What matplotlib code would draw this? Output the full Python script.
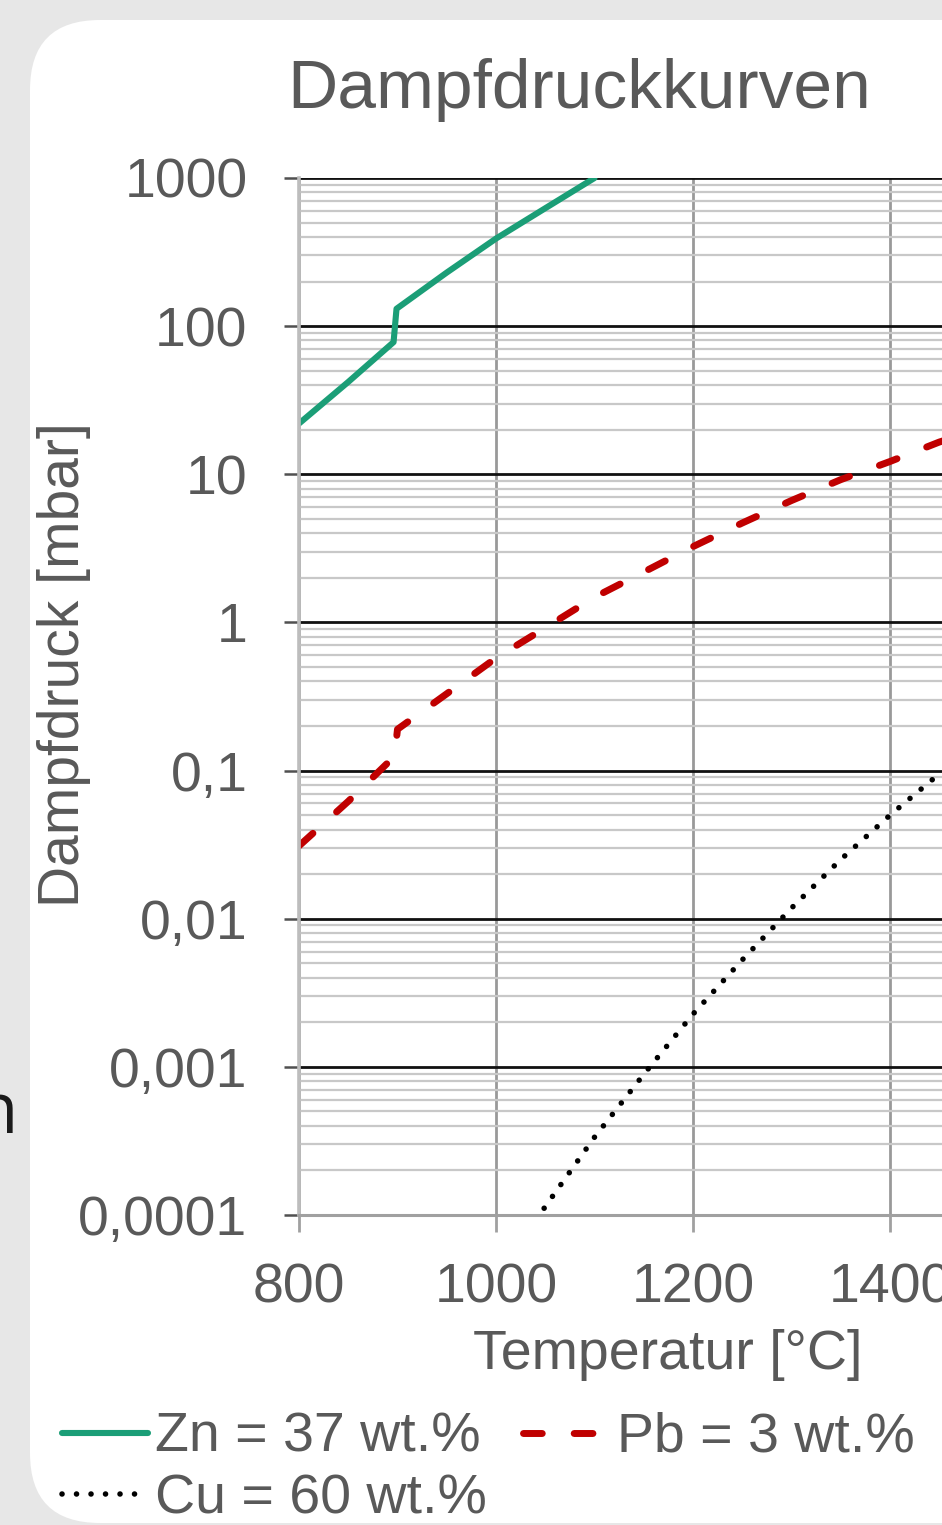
import numpy as np
import matplotlib.pyplot as plt
from matplotlib.patches import FancyBboxPatch
from matplotlib.lines import Line2D
from matplotlib.ticker import LogLocator, NullFormatter

plt.rcParams["font.family"] = ["Liberation Sans", "DejaVu Sans"]

# Dampfdruck [mbar] über Temperatur [°C]
temp_zn = [800, 850, 896, 899, 950, 1000, 1050, 1100]
druck_zn = [22, 42, 78, 131, 230, 390, 625, 1000]

temp_pb = [800, 850, 897, 900, 950, 1000, 1050, 1100, 1150, 1200, 1250, 1300,
           1350, 1400, 1450, 1500]
druck_pb = [0.031, 0.062, 0.125, 0.19, 0.33, 0.575, 0.92, 1.48, 2.19, 3.25,
            4.69, 6.65, 9.2, 12.2, 16.5, 21.0]

temp_cu = [1000, 1050, 1100, 1150, 1200, 1250, 1300, 1350, 1400, 1450, 1500]
druck_cu = [3.6e-5, 1.14e-4, 3.35e-4, 8.9e-4, 2.27e-3, 5.27e-3, 0.0118,
            0.0251, 0.050, 0.095, 0.17]

labels = ["Zn = 37 wt.%", "Pb = 3 wt.%", "Cu = 60 wt.%"]

y_ticks = [1e-4, 1e-3, 1e-2, 1e-1, 1, 10, 100, 1000]
y_ticklabels = ["0,0001", "0,001", "0,01", "0,1", "1", "10", "100", "1000"]
x_ticks = [800, 1000, 1200, 1400, 1600]

txt = "#595959"
W, H = 942, 1525

fig = plt.figure(figsize=(W / 100, H / 100), dpi=100)
fig.patch.set_facecolor("#e7e7e7")

# weisser Hintergrund mit runden Ecken
panel = FancyBboxPatch((0.30, 0.02), 10.0, 15.03,
                       boxstyle="round,pad=0,rounding_size=0.7",
                       transform=fig.dpi_scale_trans,
                       facecolor="white", edgecolor="none", zorder=0)
fig.add_artist(panel)

fig.text(18 / W, 1 - 1133 / H, "n", fontsize=51, color="#1a1a1a",
         family="Open Sans", ha="right", va="baseline")

ax = fig.add_axes([299 / W, 310 / H, 788 / W, 1037 / H])
ax.set_facecolor("white")
ax.set_yscale("log")
ax.set_xlim(800, 1600)
ax.set_ylim(1e-4, 1000)

zn_style = dict(color="#1b9e77", lw=4.4, solid_capstyle="round",
                solid_joinstyle="round")
pb_style = dict(color="#c00000", lw=5.0, linestyle=(0, (2.7, 4.6)),
                dash_capstyle="round")
cu_style = dict(color="black", lw=4.0, linestyle=(0, (0.01, 2.6)),
                dash_capstyle="round")

ax.plot(temp_zn, druck_zn, **zn_style)
ax.plot(temp_pb, druck_pb, **pb_style)
ax.plot(temp_cu, druck_cu, **cu_style)

ax.set_xticks(x_ticks)
ax.set_yticks(y_ticks)
ax.set_yticklabels(y_ticklabels)
ax.yaxis.set_minor_locator(LogLocator(base=10, subs=np.arange(2, 10)))
ax.yaxis.set_minor_formatter(NullFormatter())

ax.set_axisbelow(True)
ax.grid(which="major", axis="y", color="#111111", lw=2.0)
ax.grid(which="minor", axis="y", color="#c8c8c8", lw=1.6)
ax.grid(which="major", axis="x", color="#999999", lw=2.0)
ax.yaxis.get_major_ticks()[0].gridline.set_visible(False)

for s in ["top", "right"]:
    ax.spines[s].set_visible(False)
ax.spines["left"].set_color("#bdbdbd")
ax.spines["left"].set_linewidth(2.6)
ax.spines["bottom"].set_color("#a0a0a0")
ax.spines["bottom"].set_linewidth(2.2)

ax.tick_params(axis="y", which="major", length=11, width=1.8, color="#505050",
               pad=26, labelsize=40, labelcolor=txt)
ax.tick_params(axis="y", which="minor", length=0)
ax.tick_params(axis="x", which="major", length=12, width=2.0, color="#a0a0a0",
               pad=22, labelsize=40, labelcolor=txt)

fig.text(579 / W, 1 - 108 / H, "Dampfdruckkurven", fontsize=50, color=txt,
         ha="center", va="baseline")
fig.text(64 / W, 1 - 665 / H, "Dampfdruck [mbar]", fontsize=41, color=txt,
         rotation=90, ha="center", va="center")
fig.text(668 / W, 1 - 1355 / H, "Temperatur [°C]", fontsize=40, color=txt,
         ha="center", va="center")

handles = [Line2D([], [], **zn_style), Line2D([], [], **cu_style),
           Line2D([], [], **pb_style)]
leg = fig.legend(handles, [labels[0], labels[2], labels[1]], ncol=2,
                 loc="upper left", bbox_to_anchor=(62 / W, 1 - 1412 / H),
                 frameon=False, fontsize=40, handlelength=1.55,
                 handletextpad=0.13, columnspacing=0.65, labelspacing=0.17,
                 borderpad=0, borderaxespad=0)
for t in leg.get_texts():
    t.set_color(txt)

fig.savefig("out.png", dpi=100, facecolor=fig.get_facecolor())
